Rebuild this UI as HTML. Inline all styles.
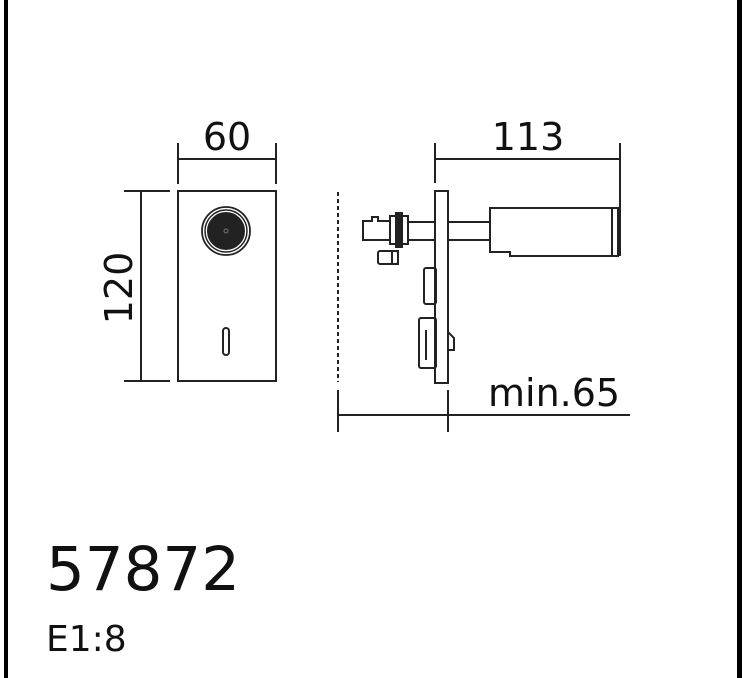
<!DOCTYPE html>
<html><head><style>
html,body{margin:0;padding:0;background:#fff;}
svg{display:block;}
text{font-family:"DejaVu Sans","Liberation Sans",sans-serif;fill:#111;}
</style></head><body>
<svg width="744" height="678" viewBox="0 0 744 678" xmlns="http://www.w3.org/2000/svg">
<rect x="0" y="0" width="744" height="678" fill="#fff"/>
<rect x="4" y="0" width="4" height="678" fill="#000"/>
<rect x="737" y="0" width="5" height="678" fill="#000"/>
<g stroke="#222" stroke-width="2" fill="none">
<rect x="178" y="191" width="98" height="190"/>
<line x1="178" y1="159" x2="276" y2="159"/>
<line x1="178" y1="143" x2="178" y2="184"/>
<line x1="276" y1="143" x2="276" y2="184"/>
<line x1="141" y1="191" x2="141" y2="381"/>
<line x1="124" y1="191" x2="170" y2="191"/>
<line x1="124" y1="381" x2="170" y2="381"/>
<circle cx="226" cy="231" r="24" stroke-width="1.8"/>
<circle cx="226" cy="231" r="21" stroke-width="1.5"/>
<circle cx="226" cy="231" r="18" fill="#222"/>
<circle cx="226" cy="231" r="2" stroke="#777" stroke-width="1"/>
<rect x="223" y="328" width="6" height="27" rx="3"/>
<line x1="338" y1="192" x2="338" y2="382" stroke-dasharray="4,3"/>
<rect x="435" y="191" width="13" height="192"/>
<line x1="435" y1="159" x2="620" y2="159"/>
<line x1="435" y1="143" x2="435" y2="183"/>
<line x1="620" y1="143" x2="620" y2="256"/>
<path d="M490 208 H618 V256 H510 V252 H490 Z"/>
<line x1="612" y1="208" x2="612" y2="256"/>
<rect x="448" y="222" width="42" height="18"/>
<path d="M363 221 H372 V217 H378 V221 H390 V240 H363 Z"/>
<rect x="390" y="216" width="18" height="28"/>
<rect x="396" y="213" width="6" height="34" fill="#222"/>
<rect x="408" y="222" width="27" height="18"/>
<rect x="378" y="251" width="20" height="13" rx="2"/>
<rect x="392" y="251" width="6" height="13"/>
<rect x="424" y="268" width="12" height="36" rx="2"/>
<rect x="419" y="318" width="17" height="50" rx="2"/>
<line x1="426" y1="330" x2="426" y2="360"/>
<path d="M448 332 L454 338 V350 H448"/>
<line x1="338" y1="415" x2="630" y2="415"/>
<line x1="338" y1="390" x2="338" y2="432"/>
<line x1="448" y1="390" x2="448" y2="432"/>
</g>
<text x="227" y="150" font-size="38" text-anchor="middle">60</text>
<text x="528" y="150" font-size="38" text-anchor="middle">113</text>
<text transform="translate(132,288) rotate(-90)" font-size="38" text-anchor="middle">120</text>
<text x="488" y="406" font-size="38">min.65</text>
<text x="46" y="590" font-size="61">57872</text>
<text x="46" y="651" font-size="36">E1:8</text>
</svg>
</body></html>
